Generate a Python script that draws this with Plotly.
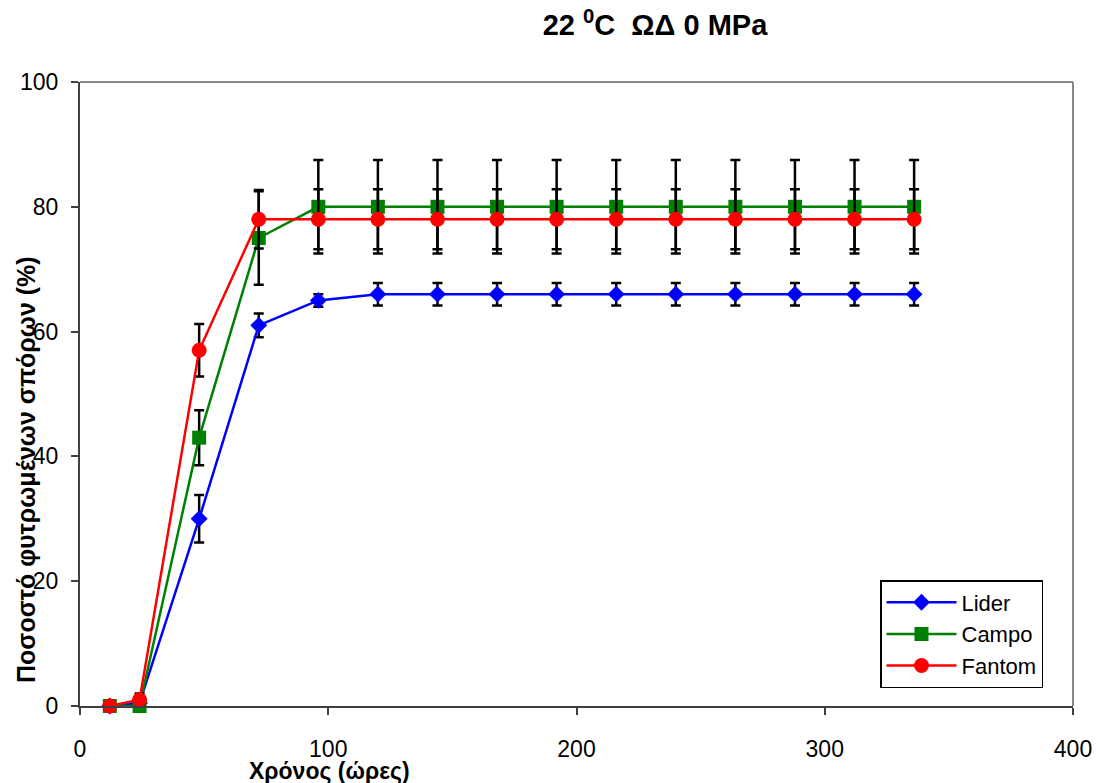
import plotly.graph_objects as go

hours = [12, 24, 48, 72, 96, 120, 144, 168, 192, 216, 240, 264, 288, 312, 336]

lider = [0, 0.5, 30, 61, 65, 66, 66, 66, 66, 66, 66, 66, 66, 66, 66]
lider_err = [0, 0, 3.8, 1.9, 1.0, 1.8, 1.8, 1.8, 1.8, 1.8, 1.8, 1.8, 1.8, 1.8, 1.8]

campo = [0, 0, 43, 75, 80, 80, 80, 80, 80, 80, 80, 80, 80, 80, 80]
campo_err = [0, 0, 4.4, 7.5, 7.5, 7.5, 7.5, 7.5, 7.5, 7.5, 7.5, 7.5, 7.5, 7.5, 7.5]

fantom = [0, 1, 57, 78, 78, 78, 78, 78, 78, 78, 78, 78, 78, 78, 78]
fantom_err = [0, 1, 4.2, 4.7, 4.8, 4.8, 4.8, 4.8, 4.8, 4.8, 4.8, 4.8, 4.8, 4.8, 4.8]

series_names = ["Lider", "Campo", "Fantom"]
title_text = "22 <sup>0</sup>C\u00a0\u00a0ΩΔ 0 MPa"
x_title = "Χρόνος (ώρες)"
y_title = "Ποσοστό φυτρωμένων σπόρων (%)"

FONT = "Arial, 'Liberation Sans', sans-serif"

fig = go.Figure()

styles = [
    (lider, lider_err, "#0000FF", "diamond", 13),
    (campo, campo_err, "#008000", "square", 14),
    (fantom, fantom_err, "#FF0000", "circle", 15),
]

for name, (vals, err, col, sym, sz) in zip(series_names, styles):
    fig.add_trace(go.Scatter(
        x=hours, y=vals, name=name, mode="lines+markers",
        line=dict(color=col, width=2.5),
        marker=dict(color=col, symbol=sym, size=sz),
        error_y=dict(type="data", array=err, visible=True,
                     color="black", thickness=2.5, width=5),
        cliponaxis=False,
    ))

fig.update_layout(
    width=1096, height=783,
    margin=dict(l=80, r=23, t=82, b=77, autoexpand=False),
    paper_bgcolor="white", plot_bgcolor="white",
    font=dict(family=FONT, color="black"),
    title=dict(text=title_text, x=655 / 1096, xanchor="center",
               y=1 - 25 / 783, yanchor="middle",
               font=dict(family=FONT, size=29, color="black", weight="bold")),
    xaxis=dict(range=[0, 400], dtick=100, showgrid=False, zeroline=False,
               automargin=False,
               showline=True, linecolor="#404040", linewidth=2,
               ticks="outside", ticklen=7, tickwidth=2, tickcolor="#404040",
               tickfont=dict(size=23, family=FONT), ticklabelstandoff=14),
    yaxis=dict(range=[0, 100], dtick=20, showgrid=False, zeroline=False,
               automargin=False,
               showline=True, linecolor="#404040", linewidth=2,
               ticks="outside", ticklen=7, tickwidth=2, tickcolor="#404040",
               tickfont=dict(size=23, family=FONT), ticklabelstandoff=8),
    legend=dict(x=(880 - 80) / 993, y=(706 - 580) / 624,
                xanchor="left", yanchor="top",
                bordercolor="black", borderwidth=1.5, bgcolor="white",
                font=dict(size=22, family=FONT), itemwidth=70,
                tracegroupgap=0),
    showlegend=True,
)

# grey frame on top and right of the plot area
fig.add_shape(type="line", xref="paper", yref="paper", x0=0, x1=1, y0=1, y1=1,
              line=dict(color="#888888", width=2))
fig.add_shape(type="line", xref="paper", yref="paper", x0=1, x1=1, y0=0, y1=1,
              line=dict(color="#888888", width=2))

fig.add_annotation(text=y_title, xref="paper", yref="paper",
                   x=(26 - 80) / 993, y=(706 - 470) / 624,
                   xanchor="center", yanchor="middle", textangle=-90,
                   showarrow=False,
                   font=dict(family=FONT, size=25, color="black", weight="bold"))
fig.add_annotation(text=x_title, xref="paper", yref="paper",
                   x=(329 - 80) / 993, y=(706 - 771) / 624,
                   xanchor="center", yanchor="middle",
                   showarrow=False,
                   font=dict(family=FONT, size=23, color="black", weight="bold"))

fig.write_html("out.html")
